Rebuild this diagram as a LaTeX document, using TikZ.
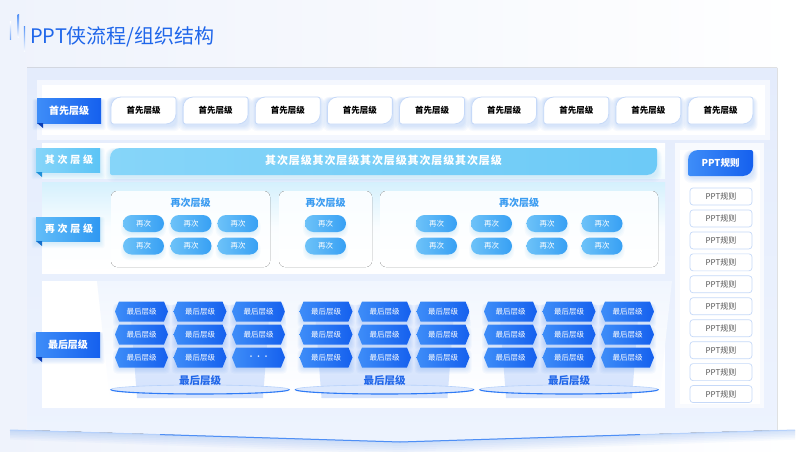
\documentclass[tikz,border=0pt]{standalone}
\usepackage{fontspec}
\setmainfont{Noto Sans CJK SC}
\usetikzlibrary{shapes.symbols}
\definecolor{bgL}{HTML}{EFF3FC}
\definecolor{panelT}{HTML}{E4ECFC}
\definecolor{panelB}{HTML}{EDF3FE}
\definecolor{titleblue}{HTML}{1F66EA}
\definecolor{deepblue}{HTML}{1560EE}
\definecolor{midblue}{HTML}{3E8DF8}
\definecolor{fold}{HTML}{0B3FB5}
\definecolor{skyA}{HTML}{86D5F9}
\definecolor{skyB}{HTML}{5CC4F6}
\definecolor{skyfold}{HTML}{1E8FD8}
\definecolor{lblA}{HTML}{62BDF8}
\definecolor{lblB}{HTML}{2F98F2}
\definecolor{lblfold}{HTML}{1670CC}
\definecolor{pillA}{HTML}{6DC2F8}
\definecolor{pillB}{HTML}{37A0F4}
\definecolor{tabline}{HTML}{C6D9F8}
\definecolor{subA}{HTML}{3B9CF1}
\definecolor{subB}{HTML}{2167E9}
\definecolor{graytext}{HTML}{555555}
\definecolor{glowblue}{HTML}{2F7BF5}
\definecolor{glowsky}{HTML}{4AB0F5}
\definecolor{wedgeB}{HTML}{F1F6FE}
\definecolor{trapT}{HTML}{E9F0FE}
\definecolor{trapB}{HTML}{D3E2FD}
\definecolor{ellfill}{HTML}{DCE8FD}
\newcommand\tabshape[7]{\path[#7] (#1,{(#2+#4)/2}) [rounded corners=#5] -- (#1,#2) -- ({(#1+#3)/2},#2) [rounded corners=#6] -- (#3,#2) -- (#3,{(#2+#4)/2}) [rounded corners=#5] -- (#3,#4) -- ({(#1+#3)/2},#4) [rounded corners=#6] -- (#1,#4) -- cycle;}
\newcommand\glow[6]{\foreach \k in {1,...,5}{\fill[#5,opacity=0.04,rounded corners=#6] ({#1-\k*0.9},{#2-\k*0.3+1.5}) rectangle ({#3+\k*0.9},{#4+\k*1.1+1.5});}}
\tikzset{
  lbltext/.style={text=white,font=\fontsize{10}{12}\selectfont\bfseries},
  spacedtext/.style={text=white,font=\fontsize{10}{12}\selectfont\bfseries\addfontfeature{LetterSpace=28}},
  tabtext/.style={text=black,font=\fontsize{8.5}{10}\selectfont\bfseries},
  pill/.style={rounded corners=8.5pt,minimum width=41pt,minimum height=17pt,inner sep=0pt,left color=pillA,right color=pillB,text=white,font=\fontsize{7.5}{9}\selectfont},
  hexcell/.style={signal,signal to=east and west,signal pointer angle=136,minimum width=53pt,minimum height=20pt,inner sep=0pt,left color=midblue,right color=deepblue,text=white,font=\fontsize{7.5}{9}\selectfont},
  rule/.style={draw=tabline,line width=0.7pt,fill=white,rounded corners=3pt,minimum width=62pt,minimum height=17pt,inner sep=0pt,text=graytext,font=\fontsize{8}{9}\selectfont},
  subtitle/.style={font=\fontsize{10}{12}\selectfont\bfseries}
}
\begin{document}
\begin{tikzpicture}[x=1pt,y=-1pt]
\useasboundingbox (0,0) rectangle (804,452);
\shade[left color=bgL,right color=white] (0,0) rectangle (804,452);
% title
\fill[top color=white,bottom color=glowblue!70] (9.8,22) rectangle (11.2,40);
\fill[top color=glowblue!80,bottom color=white] (17.6,15) rectangle (19,38);
\fill[top color=glowblue!80,bottom color=white] (23.8,27) rectangle (25.2,52);
\node[anchor=west,text=titleblue,font=\fontsize{20}{24}\selectfont,inner sep=0pt] (title) at (30,37) {PPT侠流程/组织结构};
% bottom glow line
\foreach \k in {1,...,6}{\fill[glowblue,opacity=0.035] (10,430) -- (400,442) -- (795,430) -- (795,{430+\k*1.6}) -- (400,{442+\k*2}) -- (10,{430+\k*1.6}) -- cycle;}
% main panel
\fill[top color=panelT,bottom color=panelB] (27,68) -- (777,68) -- (777,430) -- (400,442) -- (27,430) -- cycle;
\draw[line width=1pt,draw=glowblue!35] (10,430) -- (400,442) -- (795,430);
\draw[line width=1pt,draw=glowblue!85] (160,434.6) -- (400,442) -- (640,434.6);
% row panels
\fill[white!60!panelT] (37,80) rectangle (770,140);
\fill[white] (42,85) rectangle (765,135);
\fill[top color=white,bottom color=white!90!skyA] (42,143) rectangle (665,178);
\fill[top color=skyA!35,bottom color=white,middle color=white!96!skyA] (42,182) rectangle (665,273);
\fill[white] (42,281) rectangle (665,408);
\fill[white!60!panelB] (675,143) rectangle (764,408);
\fill[white] (680,150) rectangle (760,404);
% ---- row 1
\glow{37}{99}{101}{123}{glowblue}{2pt}
\fill[left color=midblue,right color=deepblue] (37,99) rectangle (101,123);
\fill[fold] (37,123) -- (43,123) -- (43,128) -- cycle;
\node[lbltext] (l1) at (69,111) {首先层级};
\foreach \i in {0,...,8}{
  \pgfmathsetmacro\cx{143.5+72.125*\i}
  \glow{\cx-32.5}{97}{\cx+32.5}{124}{glowblue}{6pt}
  \tabshape{\cx-32.5}{97}{\cx+32.5}{124}{10pt}{2.5pt}{fill=white,draw=tabline,line width=0.8pt}
  \node[tabtext] (t\i) at (\cx,110.5) {首先层级};
}
% ---- row 2
\glow{36}{148}{100}{172}{glowsky}{2pt}
\fill[left color=skyA,right color=skyB] (36,148) rectangle (100,172);
\fill[skyfold] (36,172) -- (42,172) -- (42,177) -- cycle;
\node[spacedtext] (l2) at (69,160) {其次层级};
\glow{110}{148}{657}{175}{glowsky}{8pt}
\tabshape{110}{148}{657}{175}{10pt}{2pt}{left color=skyA,right color=skyB!90!white}
\node[text=white,font=\fontsize{11}{12}\selectfont\bfseries\addfontfeature{LetterSpace=8}] (banner) at (383.5,160.5) {其次层级其次层级其次层级其次层级其次层级};
% ---- row 3
\glow{36}{217}{100}{241}{glowsky}{2pt}
\fill[left color=lblA,right color=lblB] (36,217) rectangle (100,241);
\fill[lblfold] (36,241) -- (42,241) -- (42,246) -- cycle;
\node[spacedtext] (l3) at (69,229) {再次层级};
\foreach \a/\b/\n in {111/270/b1,279/372/b2,380/658/b3}{
  \fill[top color=white!95!skyA,bottom color=white,rounded corners=6pt] (\a,191) rectangle (\b,267);
  \node[subtitle,text=subA] (\n) at ({(\a+\b)/2},202.5) {再次层级};
}
\foreach \px in {143.5,191,238,325.5,436.5,491.5,547,602}{
  \foreach \py/\r in {223.5/1,246/2}{
    \glow{\px-18}{\py-6}{\px+18}{\py+7}{glowsky}{8pt}
    \node[pill] (p\px-\r) at (\px,\py) {再次};
  }
}
% ---- row 4
\glow{36}{332}{100}{357}{glowblue}{2pt}
\fill[left color=midblue,right color=deepblue] (36,332) rectangle (100,357);
\fill[fold] (36,357) -- (42,357) -- (42,362) -- cycle;
\node[lbltext] (l4) at (68,344.5) {最后层级};
\foreach \g/\gx in {1/200,2/384.5,3/569}{
  \shade[top color=wedgeB,bottom color=white] (\gx-103,281) -- (\gx+103,281) -- (\gx+90,400) -- (\gx-90,400) -- cycle;
  \shade[top color=trapT,bottom color=trapB] (\gx-70,305) -- (\gx+70,305) -- (\gx+63,398) -- (\gx-63,398) -- cycle;
  \fill[ellfill] (\gx,389.5) ellipse[x radius=89.5pt,y radius=4.5pt];
  \draw[glowblue!35,line width=0.6pt] (\gx,389.5) ellipse[x radius=89.5pt,y radius=4.5pt];
  \draw[glowblue,line width=1.1pt] ({\gx+89.5},389.5) arc[start angle=0,end angle=-180,x radius=89.5pt,y radius=4.5pt];
  \node[subtitle,text=subB,font=\fontsize{10.5}{12}\selectfont\bfseries] (s\g) at (\gx,381) {最后层级};
  \foreach \c in {0,1,2}{
    \pgfmathsetmacro\hx{\gx-58.5+58.5*\c}
    \foreach \r/\hy in {1/311.5,2/334.5,3/357.5}{
      \glow{\hx-24}{\hy-8}{\hx+24}{\hy+9}{glowblue}{4pt}
      \ifnum\g\c\r=123
        \node[hexcell] (h\g-\c-\r) at (\hx,\hy) {···};
      \else
        \node[hexcell] (h\g-\c-\r) at (\hx,\hy) {最后层级};
      \fi
    }
  }
}
% ---- right column
\glow{688}{150}{753}{176}{glowblue}{8pt}
\tabshape{688}{150}{753}{176}{10pt}{2pt}{left color=midblue,right color=deepblue}
\node[lbltext,font=\fontsize{9.5}{11}\selectfont\bfseries] (rh) at (720.5,163) {PPT规则};
\foreach \i in {0,...,9}{
  \node[rule] (r\i) at (721,{196.5+21.95*\i}) {PPT规则};
}
\end{tikzpicture}
\end{document}
